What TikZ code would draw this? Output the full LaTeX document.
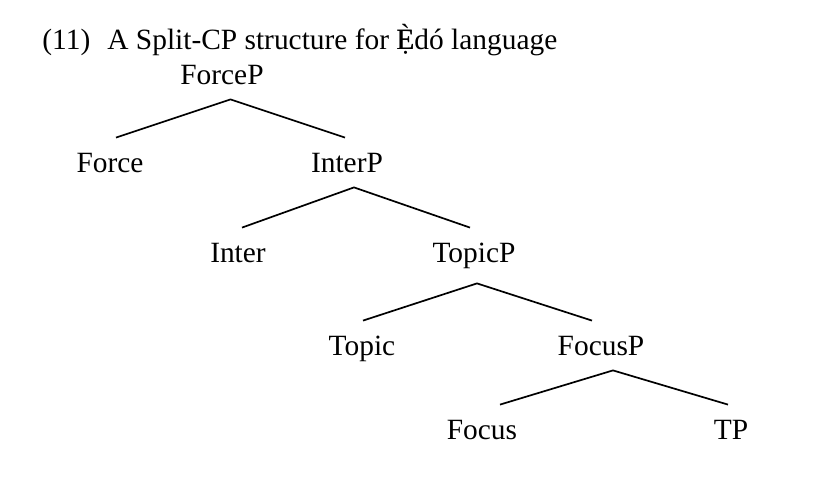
\documentclass[tikz,border=0pt]{standalone}
\usepackage{fontspec}
\setmainfont{Liberation Serif}
\usetikzlibrary{positioning}
% E with grave and dot below (overlay of two precomposed letters)
\newcommand{\Edotgrave}{{\ooalign{È\cr Ẹ\cr}}}

\begin{document}
\begin{tikzpicture}[x=0.5pt,y=-0.5pt,
  lbl/.style={inner sep=0pt,anchor=base,text height=17.5pt,text depth=7pt,font=\fontsize{14.7}{17}\selectfont},
  br/.style={line width=0.85pt}]
\useasboundingbox (0,0) rectangle (827,481);
% Example number and title
\node[lbl,anchor=base west] (num) at (42,50) {(11)};
\node[lbl,anchor=base west] (title) at (107,50) {A Split-CP structure for \Edotgrave dó language};

% Tree
\node[lbl] (forcep) at (222,85) {ForceP};
\node[lbl] (force) at (110,173) {Force};
\node[lbl] (interp) at (347,173) {InterP};
\node[lbl] (inter) at (238,263) {Inter};
\node[lbl] (topicp) at (474,263) {TopicP};
\node[lbl] (topic) at (362,356) {Topic};
\node[lbl] (focusp) at (601,356) {FocusP};
\node[lbl] (focus) at (482,440) {Focus};
\node[lbl] (tp) at (731,440) {TP};

% Branches
\draw[br] ([xshift=3pt]force.north) -- ([xshift=4.25pt]forcep.south) -- ([xshift=-1pt]interp.north);
\draw[br] ([xshift=2pt]inter.north) -- ([xshift=3.5pt]interp.south) -- ([xshift=-2pt]topicp.north);
\draw[br] ([xshift=0.5pt]topic.north) -- ([xshift=1.5pt,yshift=-3pt]topicp.south) -- ([xshift=-4.5pt]focusp.north);
\draw[br] ([xshift=9pt]focus.north) -- ([xshift=6pt]focusp.south) -- ([xshift=-1.5pt]tp.north);
\end{tikzpicture}
\end{document}
